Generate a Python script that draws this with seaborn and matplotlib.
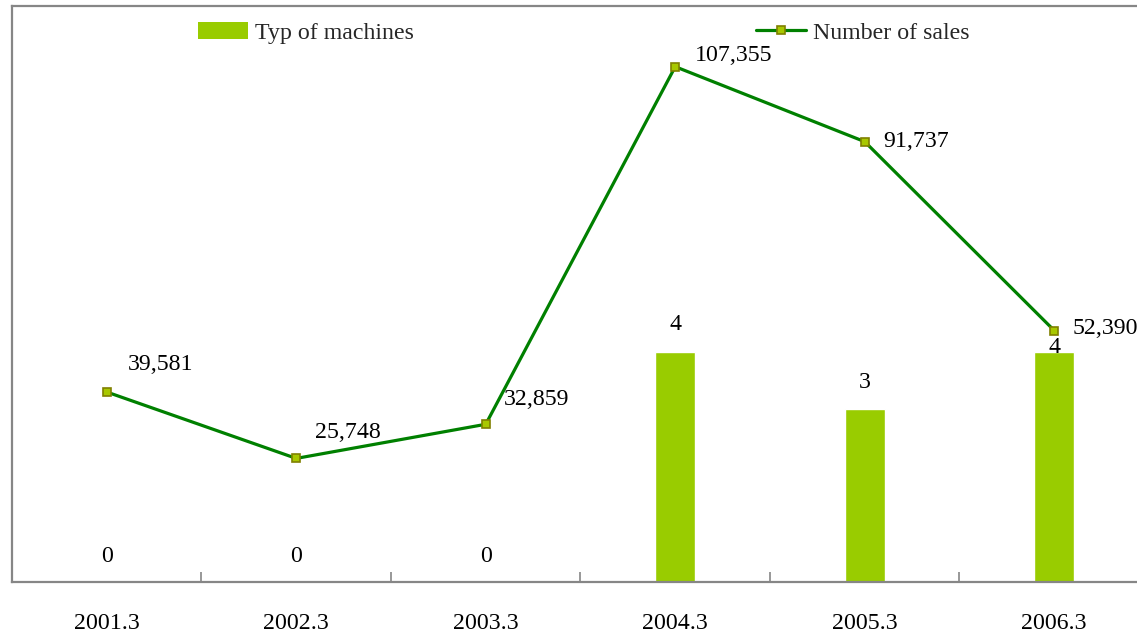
import numpy as np
import pandas as pd
import matplotlib
matplotlib.use("Agg")
import matplotlib.pyplot as plt
from matplotlib.ticker import FixedLocator
from matplotlib.lines import Line2D
from matplotlib.patches import Patch
import seaborn as sns

# Data
years = ["2001.3", "2002.3", "2003.3", "2004.3", "2005.3", "2006.3"]
machine_types = [0, 0, 0, 4, 3, 4]
sales = [39581, 25748, 32859, 107355, 91737, 52390]

# Styling
BAR_COLOR = "#99CC00"
LINE_COLOR = "#008000"
MARKER_FACE = "#A8C800"
MARKER_EDGE = "#808000"
SPINE_COLOR = "#868686"
FS = 17.2

sns.set_theme(style="white")
plt.rcParams["font.family"] = ["Liberation Serif", "DejaVu Serif"]

fig = plt.figure(figsize=(11.37, 6.32), dpi=100)
W, H = 1137, 632
left, top, bottom, right = 12, 6, 582, 1137
ax = fig.add_axes([left / W, 1 - bottom / H, (right - left) / W, (bottom - top) / H])

df = pd.DataFrame({"year": years, "types": machine_types, "sales": sales})
pos = np.arange(len(years))

sns.barplot(data=df, x="year", y="types", color=BAR_COLOR, width=0.21,
            saturation=1, ax=ax, zorder=2)
ax.set_ylim(0, 10)
ax.set_xlim(-0.5, 5.5 - 12 / 190)

ax2 = ax.twinx()
sns.lineplot(x=pos, y=df["sales"], ax=ax2, color=LINE_COLOR, linewidth=2.3,
             marker="s", markersize=5.5, markerfacecolor=MARKER_FACE,
             markeredgecolor=MARKER_EDGE, markeredgewidth=1.2, zorder=3)
ax2.set_ylim(0, 120000)
ax2.set_xlim(ax.get_xlim())

# Bar value labels (pixel offsets above the bar top)
bar_offsets = [26, 26, 26, 27, 27, 4]
for i, (v, off) in enumerate(zip(machine_types, bar_offsets)):
    ax.annotate(f"{v}", xy=(pos[i], v), xytext=(0, off), textcoords="offset pixels",
                ha="center", va="center", fontsize=FS, color="black", zorder=5)

# Line value labels (pixel offsets from each marker)
line_offsets = [(21, 28), (19, 26), (18, 25), (20, 11), (19, 0), (18, 2)]
for i, (v, (dx, dy)) in enumerate(zip(sales, line_offsets)):
    ax2.annotate(f"{v:,}", xy=(pos[i], v), xytext=(dx, dy), textcoords="offset pixels",
                 ha="left", va="center", fontsize=FS, color="black",
                 annotation_clip=False, zorder=5)

# Axes styling
for a in (ax, ax2):
    a.set_xlabel("")
    a.set_ylabel("")
    a.set_yticks([])
    a.spines["right"].set_visible(False)
    for s in ("left", "top", "bottom"):
        a.spines[s].set_color(SPINE_COLOR)
        a.spines[s].set_linewidth(1.6)
ax2.spines["left"].set_visible(False)
ax2.spines["top"].set_visible(False)
ax2.spines["bottom"].set_visible(False)

ax.set_xticks(pos)
ax.set_xticklabels(years, fontsize=FS, color="black")
ax.xaxis.set_minor_locator(FixedLocator(pos[:-1] + 0.5))
ax.tick_params(axis="x", which="major", length=0, pad=22)
ax.tick_params(axis="x", which="minor", direction="in", length=7,
               width=1.2, color=SPINE_COLOR, bottom=True)

# Legend
handles = [
    Patch(facecolor=BAR_COLOR, edgecolor="none", label="Typ of machines"),
    Line2D([], [], color=LINE_COLOR, linewidth=2.3, marker="s", markersize=5.5,
           markerfacecolor=MARKER_FACE, markeredgecolor=MARKER_EDGE,
           markeredgewidth=1.2, label="Number of sales"),
]
fig.legend(handles=handles, loc="upper left", bbox_to_anchor=(198 / W, 1 - 22 / H),
           ncol=2, frameon=False, fontsize=FS, borderpad=0, borderaxespad=0,
           handlelength=2.1, handleheight=0.72, handletextpad=0.3,
           columnspacing=14.3)

fig.savefig("out.png", dpi=100)
